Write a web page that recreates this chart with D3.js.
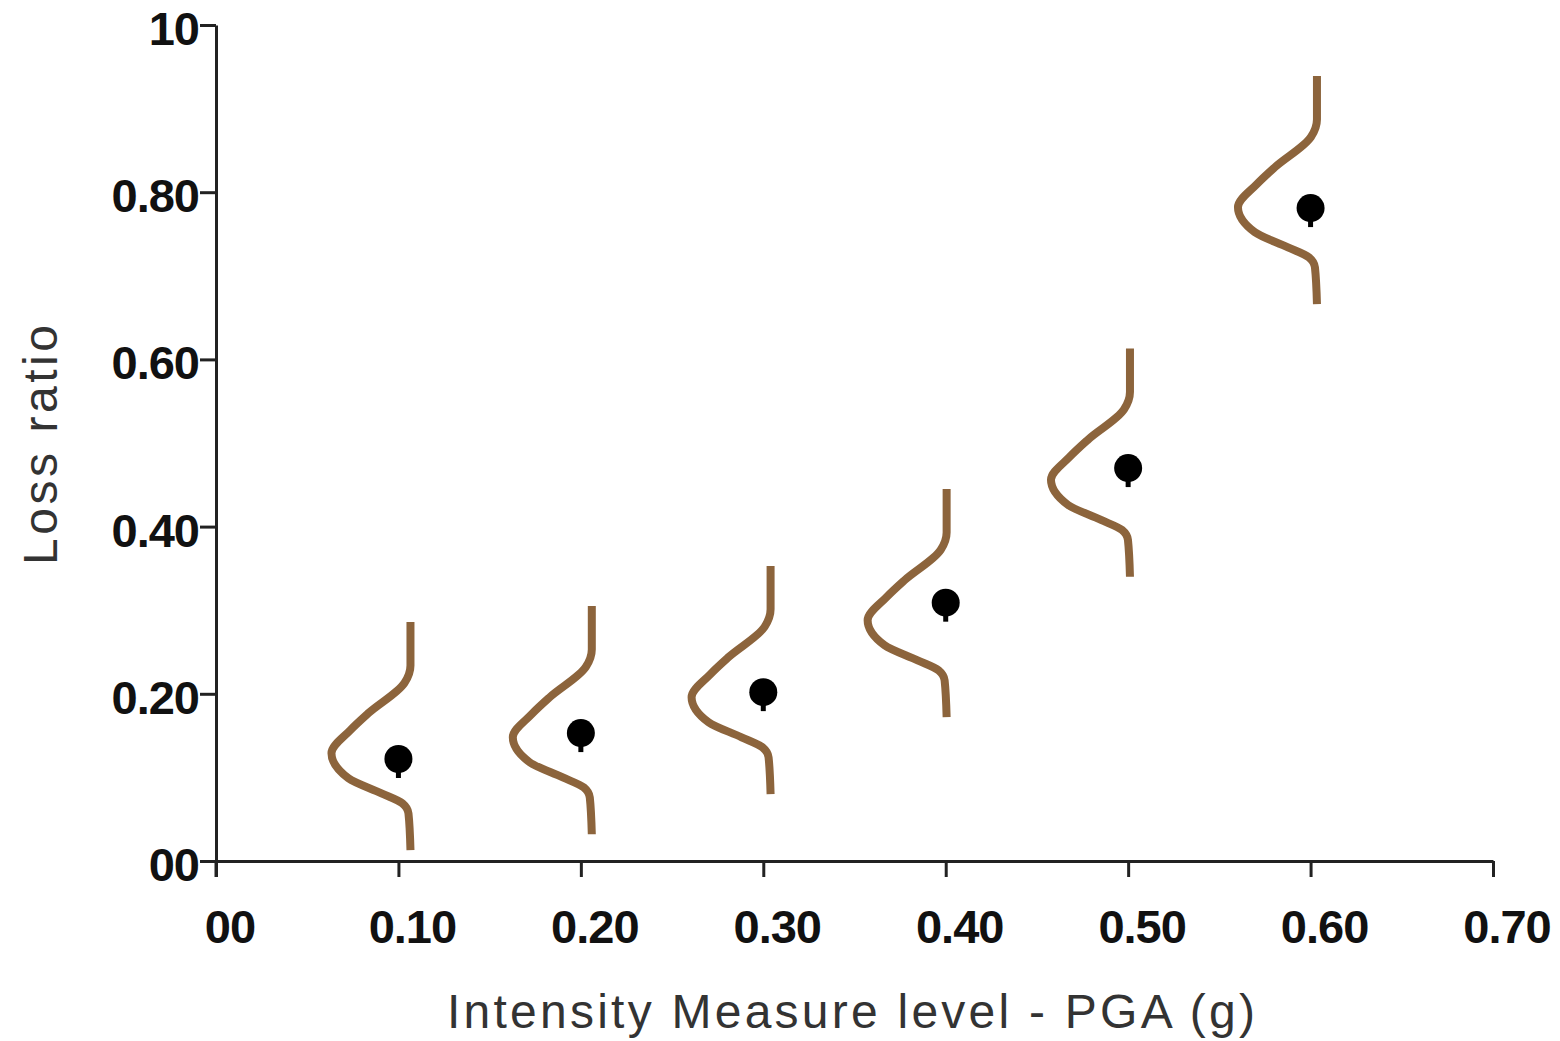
<!DOCTYPE html>
<html>
<head>
<meta charset="utf-8">
<script src="https://cdn.jsdelivr.net/npm/d3@7"></script>
<style>
  body { margin: 0; background: #fff; }
  svg { display: block; }
  .tick-label { font-family: "Liberation Sans", Arial, sans-serif; font-weight: bold; font-size: 47px; fill: #111; }
  .axis-title { font-family: "Liberation Sans", Arial, sans-serif; font-size: 48px; fill: #333; }
</style>
</head>
<body>
<div id="chart"></div>
<script>
// intensity measure levels (x) and mean loss ratios (dots)
const imls = [0.1, 0.2, 0.3, 0.4, 0.5, 0.6];
const meanLoss = [0.122, 0.153, 0.202, 0.309, 0.470, 0.781];

// distribution curves: baseline IML and loss ratio at the peak
const curveBase = [0.1066, 0.2060, 0.3040, 0.4005, 0.5010, 0.6035];
const curvePeak = [0.129, 0.148, 0.196, 0.288, 0.456, 0.782];

// shared curve shape: [d loss ratio, d IML]
const distShape = [
    [0.157, 0], [0.105, 0], [0.084, -0.0033], [0.048, -0.023], [0.0275, -0.033],
    [0, -0.0433], [-0.030, -0.034], [-0.048, -0.0159], [-0.060, -0.0044],
    [-0.072, -0.0011], [-0.116, 0]
];

const xTicks = [0, 0.1, 0.2, 0.3, 0.4, 0.5, 0.6, 0.7];
const xTickLabels = ["0", "0.1", "0.2", "0.3", "0.4", "0.5", "0.6", "0.7"];
const yTicks = [0, 0.2, 0.4, 0.6, 0.8, 1.0];
const yTickLabels = ["0", "0.2", "0.4", "0.6", "0.8", "1"];

const width = 1560, height = 1041;

const svg = d3.select("#chart").append("svg")
    .attr("width", width)
    .attr("height", height);

const x = d3.scaleLinear().domain([0, 0.7]).range([216, 1493]);
const y = d3.scaleLinear().domain([0, 1]).range([861, 25]);

// axes
const xAxis = svg.append("g")
    .attr("transform", `translate(0, ${y(0)})`)
    .call(d3.axisBottom(x).tickValues(xTicks).tickSize(16).tickSizeOuter(0).tickFormat(""));

const yAxis = svg.append("g")
    .attr("transform", `translate(${x(0)}, 0)`)
    .call(d3.axisLeft(y).tickValues(yTicks).tickSize(16).tickSizeOuter(0).tickFormat(""));

[xAxis, yAxis].forEach(g => {
    g.select(".domain").attr("stroke", "#222").attr("stroke-width", 3);
    g.selectAll(".tick line").attr("stroke", "#222").attr("stroke-width", 3);
});
// y axis runs down through the x=0 tick
svg.append("line")
    .attr("x1", x(0)).attr("x2", x(0))
    .attr("y1", y(0)).attr("y2", y(0) + 16)
    .attr("stroke", "#222").attr("stroke-width", 3);

// tick labels (with the trailing glyph seen in the original)
const xl = svg.selectAll(".xlab")
    .data(xTicks)
    .enter()
    .append("text")
    .attr("class", "tick-label")
    .attr("x", d => x(d) + 14)
    .attr("y", y(0) + 82)
    .attr("text-anchor", "middle")
    .attr("letter-spacing", -1)
    .text((d, i) => xTickLabels[i] + "0");

const yl = svg.selectAll(".ylab")
    .data(yTicks)
    .enter()
    .append("text")
    .attr("class", "tick-label")
    .attr("x", x(0) - 17)
    .attr("y", d => y(d) + 20)
    .attr("text-anchor", "end")
    .attr("letter-spacing", -1)
    .text((d, i) => yTickLabels[i] + "0");

// axis titles
svg.append("text")
    .attr("class", "axis-title")
    .attr("x", 851)
    .attr("y", 1028)
    .attr("text-anchor", "middle")
    .attr("textLength", 808)
    .attr("lengthAdjust", "spacing")
    .text("Intensity Measure level - PGA (g)");

svg.append("text")
    .attr("class", "axis-title")
    .attr("transform", "translate(57, 445) rotate(-90)")
    .attr("text-anchor", "middle")
    .attr("textLength", 240)
    .attr("lengthAdjust", "spacing")
    .text("Loss ratio");

// distribution curves
const line = d3.line()
    .x(d => x(d[0]))
    .y(d => y(d[1]))
    .curve(d3.curveMonotoneY);

svg.selectAll(".dist")
    .data(imls)
    .enter()
    .append("path")
    .attr("class", "dist")
    .attr("d", (d, i) => line(distShape.map(s => [curveBase[i] + s[1], curvePeak[i] + s[0]])))
    .attr("fill", "none")
    .attr("stroke", "#8c643c")
    .attr("stroke-width", 8)
    .attr("stroke-linejoin", "round");

// mean loss markers
svg.selectAll(".stub")
    .data(imls)
    .enter()
    .append("line")
    .attr("x1", d => x(d)).attr("x2", d => x(d))
    .attr("y1", (d, i) => y(meanLoss[i]))
    .attr("y2", (d, i) => y(meanLoss[i]) + 19)
    .attr("stroke", "#000")
    .attr("stroke-width", 5);

svg.selectAll(".mean")
    .data(imls)
    .enter()
    .append("circle")
    .attr("class", "mean")
    .attr("cx", d => x(d))
    .attr("cy", (d, i) => y(meanLoss[i]))
    .attr("r", 14)
    .attr("fill", "#000");
</script>
</body>
</html>
